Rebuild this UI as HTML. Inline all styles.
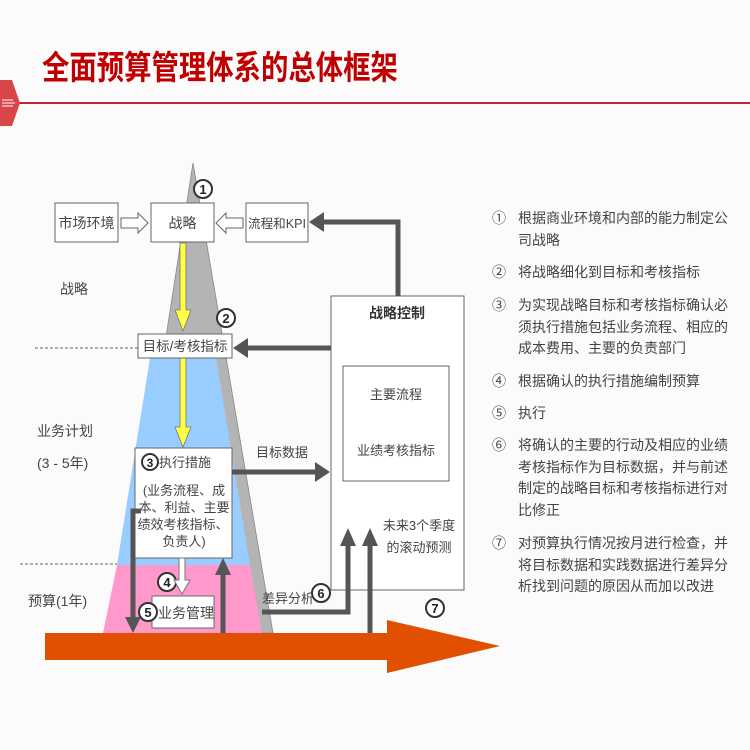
<!DOCTYPE html>
<html><head><meta charset="utf-8"><style>
body{margin:0;width:750px;height:750px;background:#fbfbfb;overflow:hidden}
svg{display:block}
text{font-family:"Liberation Sans","Noto Sans CJK SC",sans-serif;fill:#444}
</style></head><body>
<svg width="750" height="750" viewBox="0 0 750 750" xmlns="http://www.w3.org/2000/svg">
<!-- title -->
<text x="0" y="79" font-size="33" font-weight="bold" transform="translate(42,0) scale(0.83,1)" style="fill:#c00000">全面预算管理体系的总体框架</text>
<line x1="18" y1="103" x2="750" y2="103" stroke="#c0262a" stroke-width="2"/>
<path d="M0,80 L12,80 L20,103 L12,126 L0,126 z" fill="#d9464a"/>
<g stroke="#fff" stroke-width="1"><line x1="2" y1="100" x2="13" y2="100"/><line x1="2" y1="103" x2="15" y2="103"/><line x1="2" y1="106" x2="13" y2="106"/></g>

<path d="M193,163 L273,633 L120,633 z" fill="#b4b4b4" stroke="#888" stroke-width="0.8"/>
<path d="M150,358 L216,358 L250,565 L117,565 z" fill="#99ccff"/>
<path d="M117,565 L250,565 L262,633 L103,633 z" fill="#ff99cc"/>

<line x1="35" y1="348" x2="138" y2="348" stroke="#666" stroke-dasharray="3,2" stroke-width="1"/>
<line x1="20" y1="564" x2="117" y2="564" stroke="#666" stroke-dasharray="3,2" stroke-width="1"/>

<text x="60" y="294" font-size="14">战略</text>
<text x="37" y="436" font-size="14">业务计划</text>
<text x="37" y="468" font-size="14">(3 - 5年)</text>
<text x="28" y="606" font-size="14">预算(1年)</text>

<rect x="55" y="203" width="63" height="39" fill="#fff" stroke="#666"/>
<text x="86.5" y="228" font-size="14" text-anchor="middle">市场环境</text>
<rect x="151" y="203" width="63" height="39" fill="#fff" stroke="#666"/>
<text x="182.5" y="228" font-size="14" text-anchor="middle">战略</text>
<rect x="246" y="203" width="62" height="39" fill="#fff" stroke="#666"/>
<text x="277" y="228" font-size="12.5" text-anchor="middle" textLength="58" lengthAdjust="spacingAndGlyphs">流程和KPI</text>
<path d="M121,218 L138,218 L138,213 L148,223 L138,233 L138,228 L121,228 z" fill="#fff" stroke="#666"/>
<path d="M243,218 L226,218 L226,213 L216,223 L226,233 L226,228 L243,228 z" fill="#fff" stroke="#666"/>

<g fill="#fff" stroke="#333" stroke-width="2">
<circle cx="203" cy="189" r="9"/><circle cx="226" cy="318" r="9"/>
<circle cx="167" cy="582" r="9"/>
<circle cx="321" cy="593" r="9"/><circle cx="435" cy="608" r="9"/>
</g>
<g font-size="13" font-weight="bold" text-anchor="middle">
<text x="203" y="194" style="fill:#222">1</text><text x="226" y="323" style="fill:#222">2</text>
<text x="167" y="587" style="fill:#222">4</text>
<text x="321" y="598" style="fill:#222">6</text><text x="435" y="613" style="fill:#222">7</text>
</g>

<g fill="#ffff44" stroke="#777" stroke-width="0.8">
<path d="M180,243 L186,243 L186,310 L191,310 L183,331 L175,310 L180,310 z"/>
<path d="M180,358 L186,358 L186,427 L191,427 L183,447 L175,427 L180,427 z"/>
</g>

<rect x="331" y="296" width="133" height="294" fill="#fff" stroke="#666"/>
<text x="397" y="318" font-size="14" font-weight="bold" text-anchor="middle" style="fill:#333">战略控制</text>
<rect x="343" y="366" width="106" height="115" fill="#fff" stroke="#666"/>
<text x="396" y="399" font-size="13" text-anchor="middle">主要流程</text>
<text x="396" y="455" font-size="13" text-anchor="middle">业绩考核指标</text>
<text x="419" y="530" font-size="13" text-anchor="middle">未来3个季度</text>
<text x="419" y="552" font-size="13" text-anchor="middle">的滚动预测</text>

<rect x="138" y="334" width="94" height="24" fill="#fff" stroke="#666"/>
<text x="185" y="351" font-size="13.5" text-anchor="middle">目标/考核指标</text>

<rect x="135" y="448" width="97" height="110" fill="#fff" stroke="#666"/>
<circle cx="150" cy="462" r="8" fill="#fff" stroke="#333" stroke-width="2"/>
<text x="150" y="467" font-size="12" font-weight="bold" text-anchor="middle" style="fill:#222">3</text>
<text x="159" y="467" font-size="13">执行措施</text>
<g font-size="13" text-anchor="middle">
<text x="184" y="495">(业务流程、成</text>
<text x="184" y="512">本、利益、主要</text>
<text x="183" y="529">绩效考核指标、</text>
<text x="184" y="546">负责人)</text>
</g>
<text x="256" y="457" font-size="13">目标数据</text>
<text x="262" y="603" font-size="13">差异分析</text>

<g stroke="#555" stroke-width="5" fill="none">
<polyline points="398,296 398,222 322,222"/>
<line x1="331" y1="348" x2="247" y2="348"/>
<line x1="232" y1="472" x2="316" y2="472"/>
<polyline points="141,511 133,511 133,618"/>
<line x1="223" y1="633" x2="223" y2="575"/>
<polyline points="262,612 348,612 348,545"/>
<line x1="370" y1="633" x2="370" y2="545"/>
</g>
<g fill="#555">
<path d="M309,222 L324,212 L324,232 z"/>
<path d="M233,348 L248,338 L248,358 z"/>
<path d="M330,472 L315,462 L315,482 z"/>
<path d="M133,633 L125,617 L141,617 z"/>
<path d="M223,558 L215,575 L231,575 z"/>
<path d="M348,528 L340,546 L356,546 z"/>
<path d="M370,528 L362,546 L378,546 z"/>
</g>

<path d="M179,558 L185,558 L185,580 L190,580 L182,594 L174,580 L179,580 z" fill="#fff" stroke="#777"/>

<rect x="152" y="596" width="62" height="32" fill="#fff" stroke="#666"/>
<text x="186" y="618" font-size="14" text-anchor="middle">业务管理</text>
<circle cx="148" cy="612" r="9" fill="#fff" stroke="#333" stroke-width="2"/>
<text x="148" y="617" font-size="13" font-weight="bold" text-anchor="middle" style="fill:#222">5</text>

<path d="M45,633 L387,633 L387,620 L500,646 L387,673 L387,660 L45,660 z" fill="#e05000"/>

<g font-size="14">
<text x="492" y="223">①</text><text x="518" y="223">根据商业环境和内部的能力制定公</text><text x="518" y="245">司战略</text>
<text x="492" y="277">②</text><text x="518" y="277">将战略细化到目标和考核指标</text>
<text x="492" y="310">③</text><text x="518" y="310">为实现战略目标和考核指标确认必</text><text x="518" y="332">须执行措施包括业务流程、相应的</text><text x="518" y="353">成本费用、主要的负责部门</text>
<text x="492" y="386">④</text><text x="518" y="386">根据确认的执行措施编制预算</text>
<text x="492" y="418">⑤</text><text x="518" y="418">执行</text>
<text x="492" y="450">⑥</text><text x="518" y="450">将确认的主要的行动及相应的业绩</text><text x="518" y="472">考核指标作为目标数据，并与前述</text><text x="518" y="493">制定的战略目标和考核指标进行对</text><text x="518" y="515">比修正</text>
<text x="492" y="548">⑦</text><text x="518" y="548">对预算执行情况按月进行检查，并</text><text x="518" y="570">将目标数据和实践数据进行差异分</text><text x="518" y="591">析找到问题的原因从而加以改进</text>
</g>
</svg>
</body></html>
